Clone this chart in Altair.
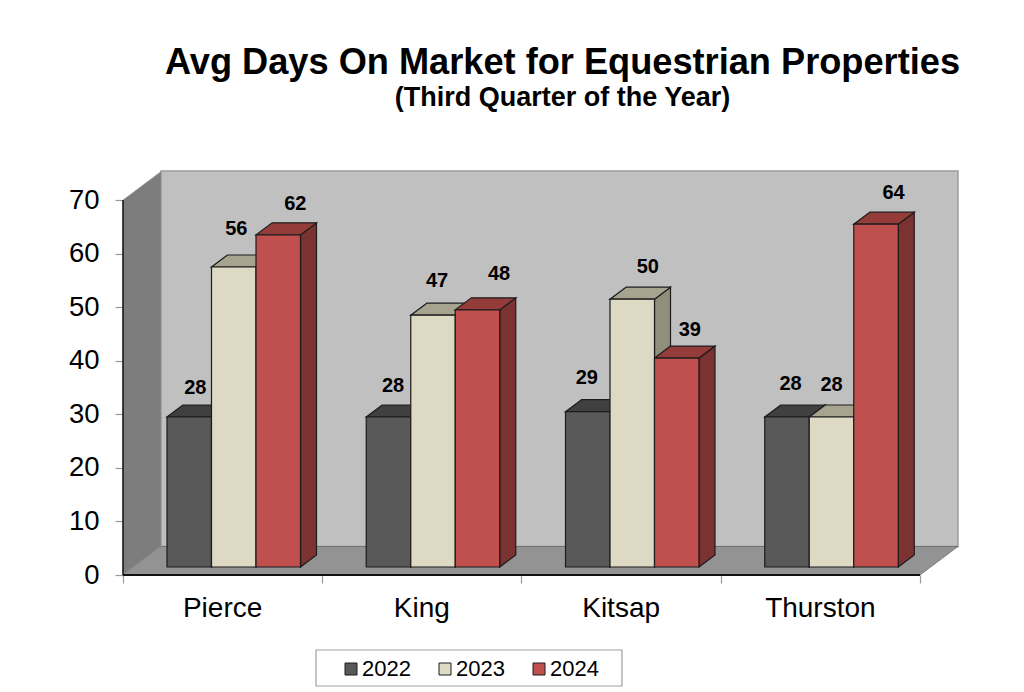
import altair as alt
import pandas as pd

counties = ["Pierce", "King", "Kitsap", "Thurston"]
years = ["2022", "2023", "2024"]
days_2022 = [28, 28, 29, 28]
days_2023 = [56, 47, 50, 28]
days_2024 = [62, 48, 39, 64]
series = [days_2022, days_2023, days_2024]

front = ["#595959", "#ddd9c3", "#c0504d"]
top = ["#404040", "#a6a48f", "#933c3a"]
side = ["#3b3b3b", "#908f7b", "#7b3332"]

# label nudges from the bar centre/top, in screen pixels (per series, per county)
nudge_x = [[6, 4.5, -1, 3.5], [2.5, 4, 15.5, 0], [17, 21.5, 13, 17.5]]
nudge_y = [[29, 31, 34, 33], [38, 34, 32, 32], [31, 36, 28, 31]]

W, H = 835, 404
PX_X = 199.25   # px per category
PX_Y = 5.357    # px per day
wall_dx, wall_dy = 38 / PX_X, 28.5 / PX_Y
front_dx, front_dy = 11 / PX_X, 8 / PX_Y
bar_dx, bar_dy = 16 / PX_X, 12 / PX_Y
gap = 33 / PX_X
bar_w = 44.5 / PX_X
xmax, ymax = W / PX_X, H / PX_Y

xs = alt.Scale(domain=[0, xmax], range=[0, W], nice=False, zero=False)
ys = alt.Scale(domain=[0, ymax], range=[H, 0], nice=False, zero=False)

x_axis = alt.Axis(
    values=[0, 1, 2, 3, 4], labels=False, domain=False, grid=False, title=None,
    tickSize=8, tickColor="#9a9a9a", tickWidth=1.2)
y_axis = alt.Axis(
    values=list(range(0, 71, 10)), domain=False, grid=False, title=None,
    tickSize=8, tickColor="#9a9a9a", tickWidth=1.2, labelPadding=16,
    labelFontSize=27.5, labelColor="#000000", labelFont="Liberation Sans")

X = lambda f="x", **k: alt.X(f"{f}:Q", scale=xs, axis=x_axis, **k)
Y = lambda f="y", **k: alt.Y(f"{f}:Q", scale=ys, axis=y_axis, **k)

fronts, tops, sides, labels = [], [], [], []
for c in range(len(counties)):
    for s, vals in enumerate(series):
        v = vals[c]
        x0 = c + front_dx + gap + s * bar_w
        x1 = x0 + bar_w
        yb = front_dy
        yt = v + front_dy
        bid = f"{c}-{s}"
        fronts.append(dict(year=years[s], x=x0, x2=x1, y=yb, y2=yt))
        tops += [dict(id=bid, y=yt, x=x0, x2=x1, col=top[s]),
                 dict(id=bid, y=yt + bar_dy, x=x0 + bar_dx, x2=x1 + bar_dx, col=top[s])]
        sides += [dict(id=bid, x=x1, y=yt, y2=yb, col=side[s]),
                  dict(id=bid, x=x1 + bar_dx, y=yt + bar_dy, y2=yb + bar_dy, col=side[s])]
        labels.append(dict(x=(x0 + x1) / 2 + nudge_x[s][c] / PX_X,
                           y=yt + nudge_y[s][c] / PX_Y, t=str(v)))

back = alt.Chart(pd.DataFrame([dict(x=wall_dx, x2=xmax, y=wall_dy, y2=ymax)])).mark_rect(
    fill="#c0c0c0", stroke="#9c9c9c", strokeWidth=1.5
).encode(x=X(), x2="x2:Q", y=Y(), y2="y2:Q")

floor = alt.Chart(pd.DataFrame([
    dict(y=0, x=0, x2=4),
    dict(y=wall_dy, x=wall_dx, x2=4 + wall_dx),
])).mark_area(orient="horizontal", fill="#939393", stroke="#555555", strokeWidth=0.6).encode(
    x=X(stack=None), x2="x2:Q", y=Y()
)

wall = alt.Chart(pd.DataFrame([
    dict(x=0, y=70, y2=0),
    dict(x=wall_dx, y=70 + wall_dy, y2=wall_dy),
])).mark_area(orient="vertical", fill="#7d7d7d", stroke="#9c9c9c", strokeWidth=0.6).encode(
    x=X(), y=Y(stack=None), y2="y2:Q"
)

yline = alt.Chart(pd.DataFrame([dict(x=0, y=0, y2=70)])).mark_rule(color="#111111", strokeWidth=1.5).encode(
    x=X(), y=Y(), y2="y2:Q")
xline = alt.Chart(pd.DataFrame([dict(y=0, x=0, x2=4)])).mark_rule(color="#111111", strokeWidth=2).encode(
    x=X(), x2="x2:Q", y=Y())

side_l = alt.Chart(pd.DataFrame(sides)).mark_area(orient="vertical", stroke="#1c1c1c", strokeWidth=1.2).encode(
    x=X(), y=Y(stack=None), y2="y2:Q", detail="id:N", fill=alt.Fill("col:N", scale=None))
top_l = alt.Chart(pd.DataFrame(tops)).mark_area(orient="horizontal", stroke="#1c1c1c", strokeWidth=1.2).encode(
    x=X(stack=None), x2="x2:Q", y=Y(), detail="id:N", fill=alt.Fill("col:N", scale=None))
front_l = alt.Chart(pd.DataFrame(fronts)).mark_rect(stroke="#1c1c1c", strokeWidth=1.2).encode(
    x=X(), x2="x2:Q", y=Y(), y2="y2:Q",
    fill=alt.Fill("year:N", scale=alt.Scale(domain=years, range=front), legend=alt.Legend(
        title=None, orient="none", direction="horizontal", columns=3,
        legendX=217, legendY=487, symbolType="square", symbolSize=144,
        symbolStrokeColor="#222222", symbolStrokeWidth=1, symbolOpacity=1,
        labelFontSize=22, labelFont="Liberation Sans", labelColor="#000000",
        labelOffset=0, columnPadding=23, padding=0)),
)

value_l = alt.Chart(pd.DataFrame(labels)).mark_text(
    font="Liberation Sans", fontSize=20, fontWeight="bold", color="#000000"
).encode(x=X(), y=Y(), text="t:N")

cat_l = alt.Chart(pd.DataFrame(dict(
    x=[i + 0.5 for i in range(4)], y=[-34 / PX_Y] * 4, t=counties
))).mark_text(font="Liberation Sans", fontSize=28, color="#000000").encode(x=X(), y=Y(), text="t:N")

box = alt.Chart(pd.DataFrame(dict(a=[0]))).mark_rect(
    fill="#ffffff", stroke="#a0a0a0", strokeWidth=1.2
).encode(x=alt.value(193), x2=alt.value(499), y=alt.value(479), y2=alt.value(515))

chart = alt.layer(
    back, floor, wall, yline, xline,
    side_l, top_l, front_l, value_l, cat_l, box
).properties(
    width=W, height=H,
    padding=dict(left=115, top=163, right=58, bottom=112),
    autosize=alt.AutoSizeParams(type="none"),
    background="#ffffff",
    title=alt.TitleParams(
        text="Avg Days On Market for Equestrian Properties",
        subtitle="(Third Quarter of the Year)",
        font="Liberation Sans", fontSize=36.2, fontWeight="bold", color="#000000",
        subtitleFont="Liberation Sans", subtitleFontSize=27, subtitleFontWeight="bold",
        subtitleColor="#000000", subtitlePadding=4,
        anchor="middle", frame="group", dx=22, offset=59),
).configure_view(stroke=None)

chart.save("out.html", embed_options={"renderer": "svg", "actions": False})
